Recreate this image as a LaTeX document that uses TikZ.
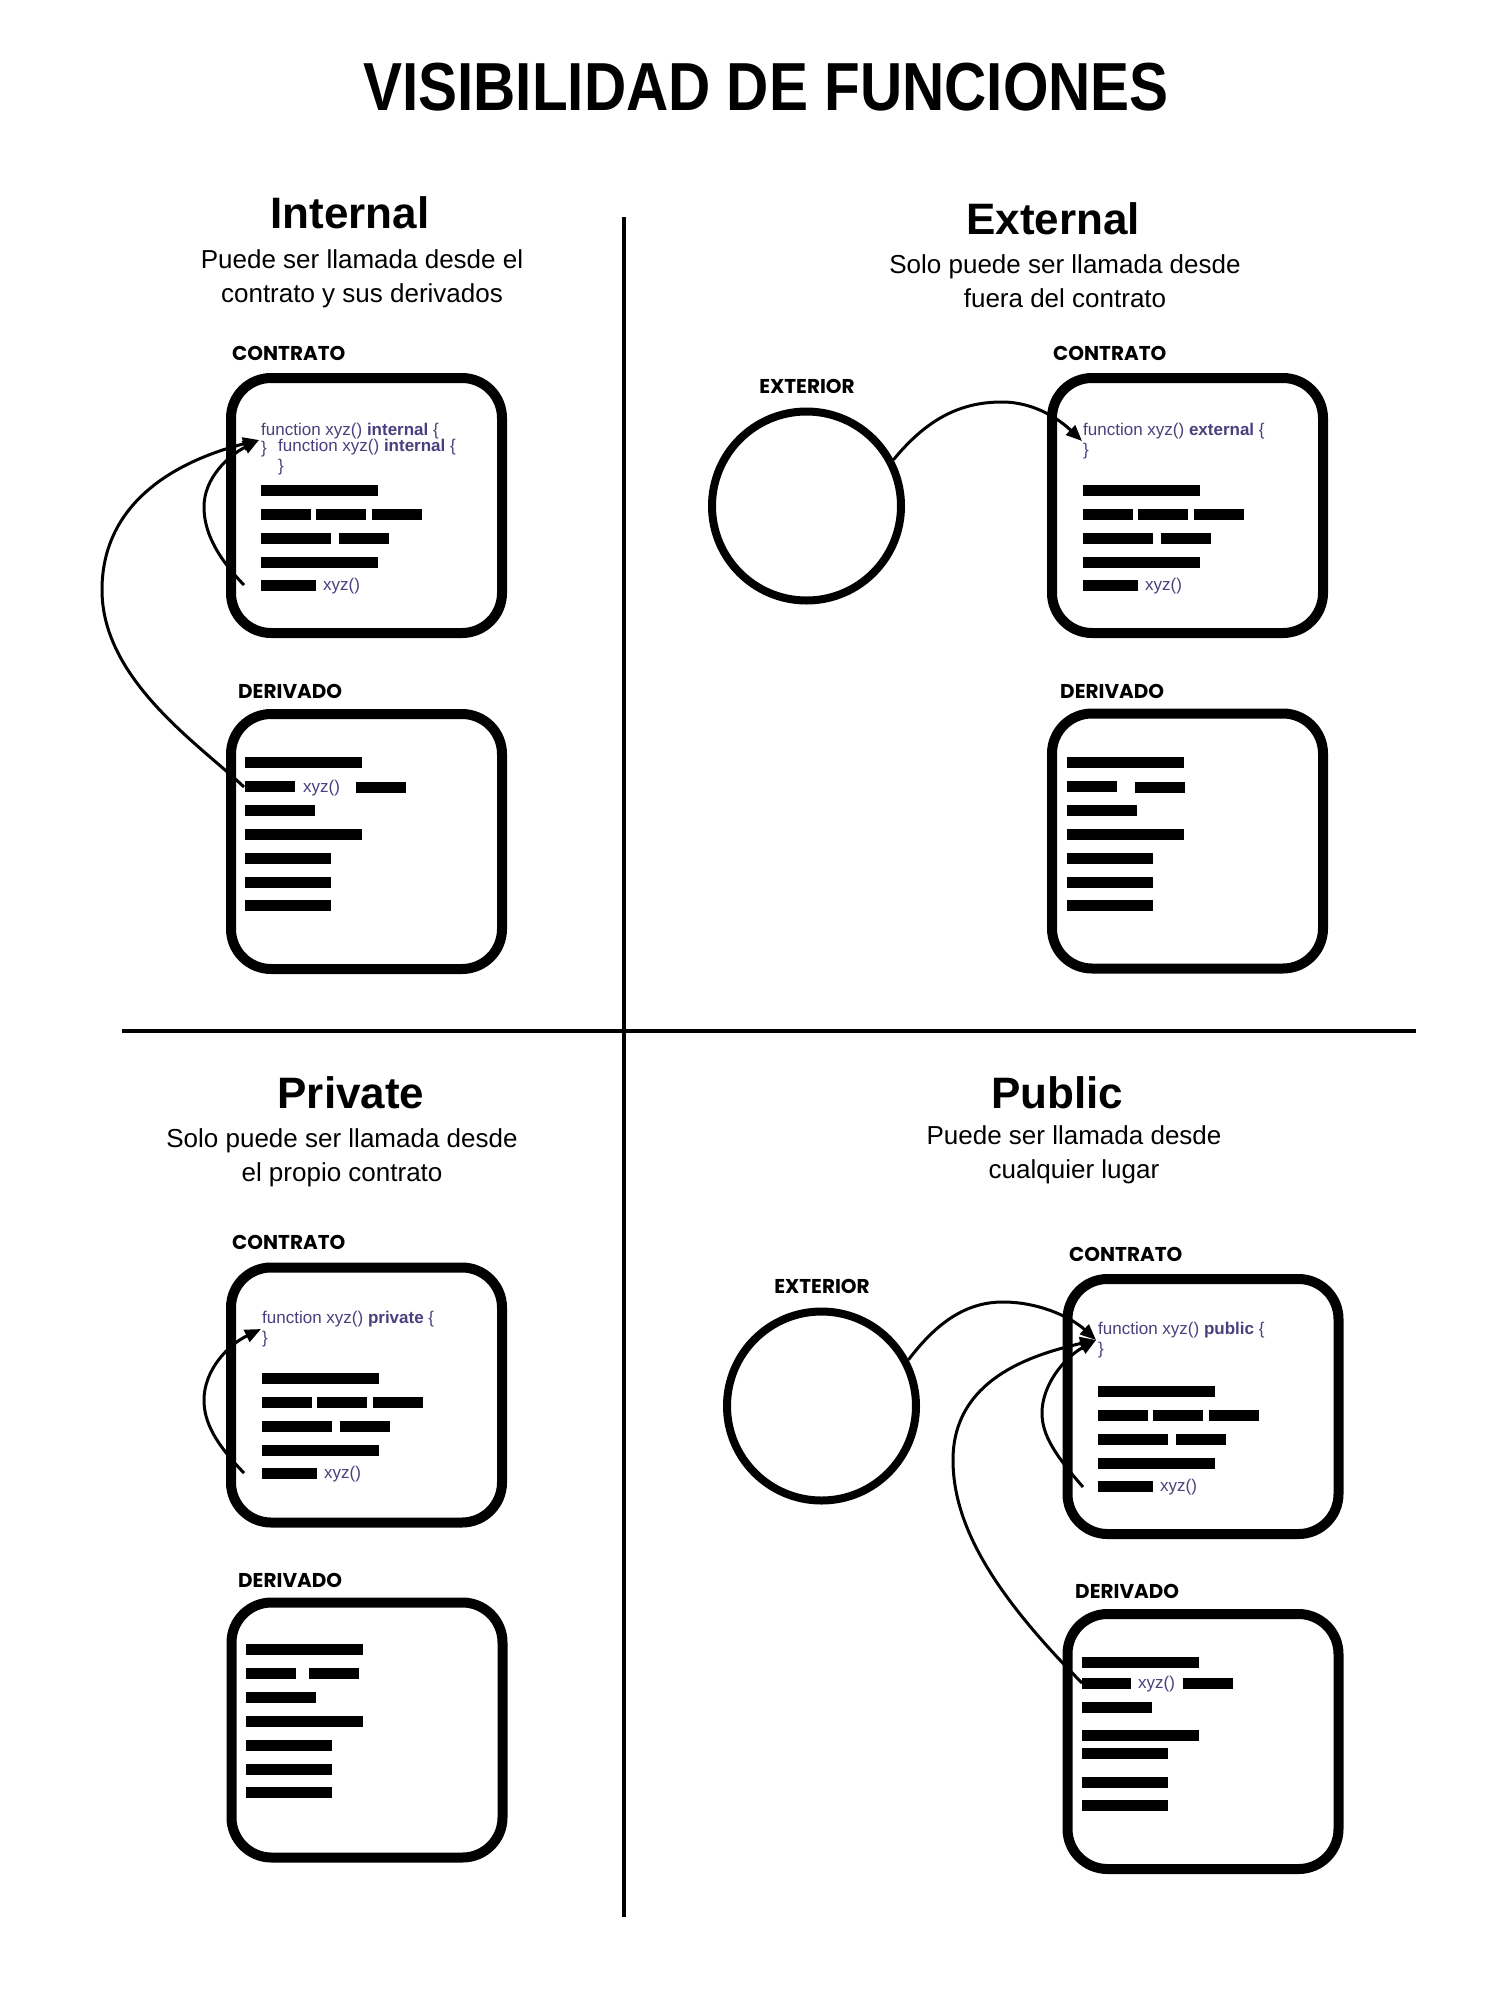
\documentclass[tikz,border=0pt]{standalone}
\usepackage{fontspec}
\usepackage{graphicx}
\setmainfont{Liberation Sans}
\newfontfamily\poppins{Poppins}
\usetikzlibrary{arrows.meta,positioning}
\definecolor{codigomorado}{HTML}{4B3F7E}

\begin{document}
\begin{tikzpicture}[x=1pt,y=-1pt,
    caja/.style={draw, line width=10pt, rounded corners=40pt, minimum width=271pt, minimum height=255pt, inner sep=0pt},
    exterior/.style={draw, circle, line width=8pt, minimum size=189pt, inner sep=0pt},
    seccion/.style={font=\fontsize{44}{48}\selectfont\bfseries, anchor=base},
    desc/.style={font=\fontsize{26}{34}\selectfont, align=center, anchor=base},
    etiqueta/.style={font=\poppins\fontsize{20}{21}\selectfont\bfseries, anchor=base west, inner sep=0pt},
    codigo/.style={font=\fontsize{17}{18}\selectfont, text=codigomorado, anchor=base west, inner sep=0pt},
    flecha/.style={line width=3pt, -{Triangle[length=16pt,width=13pt]}}
]
    % Fondo y margenes
    \fill[white] (0,0) rectangle (1500,2000);
    \useasboundingbox (0,0) rectangle (1500,2000);

    % Titulo
    \node[font=\fontsize{68}{70}\selectfont\bfseries, anchor=base] (titulo) at (766,110) {\scalebox{0.86}[1]{VISIBILIDAD DE FUNCIONES}};

    % Separadores
    \draw[line width=3.5pt] (624,217) -- (624,1917);
    \draw[line width=3.5pt] (122,1031) -- (1416,1031);

    % Internal
    \node[seccion] (intTit) at (350,228) {Internal};
    \node[desc] (intDesc) at (362,302) {Puede ser llamada desde el\\contrato y sus derivados};
    \node[etiqueta] (intCLab) at (232,360) {CONTRATO};
    \node[etiqueta] (intDLab) at (238,698) {DERIVADO};
    \node[caja] (intC) at (366.5,505.5) {};
    \node[caja] (intD) at (366.5,841.5) {};
    \node[codigo] (intCod1) at (261,435) {function xyz() \textbf{internal} \{};
    \node[codigo] (intCod2) at (261,453) {\}};
    \node[codigo] (intCod3) at (278,451) {function xyz() \textbf{internal} \{};
    \node[codigo] (intCod4) at (278,471) {\}};

    % External
    \node[seccion] (extTit) at (1053,234) {External};
    \node[desc] (extDesc) at (1065,307) {Solo puede ser llamada desde\\fuera del contrato};
    \node[etiqueta] (extCLab) at (1053,360) {CONTRATO};
    \node[etiqueta] (extDLab) at (1060,698) {DERIVADO};
    \node[etiqueta, anchor=base] (extELab) at (807,393) {EXTERIOR};
    \node[exterior] (extExt) at (806.5,506) {};
    \node[caja] (extC) at (1187.5,505.5) {};
    \node[caja] (extD) at (1187.5,841) {};
    \node[codigo] (extCod1) at (1083,435) {function xyz() \textbf{external} \{};
    \node[codigo] (extCod2) at (1083,455) {\}};

    % Private
    \node[seccion] (priTit) at (351,1108) {Private};
    \node[desc] (priDesc) at (342,1181) {Solo puede ser llamada desde\\el propio contrato};
    \node[etiqueta] (priCLab) at (232,1249) {CONTRATO};
    \node[etiqueta] (priDLab) at (238,1587) {DERIVADO};
    \node[caja] (priC) at (366.5,1395) {};
    \node[caja] (priD) at (367,1730) {};
    \node[codigo] (priCod1) at (262,1323) {function xyz() \textbf{private} \{};
    \node[codigo] (priCod2) at (262,1343) {\}};

    % Public
    \node[seccion] (pubTit) at (1057,1108) {Public};
    \node[desc] (pubDesc) at (1074,1178) {Puede ser llamada desde\\cualquier lugar};
    \node[etiqueta] (pubCLab) at (1069,1261) {CONTRATO};
    \node[etiqueta] (pubDLab) at (1075,1598) {DERIVADO};
    \node[etiqueta, anchor=base] (pubELab) at (822,1293) {EXTERIOR};
    \node[exterior] (pubExt) at (821.5,1406) {};
    \node[caja] (pubC) at (1203,1406.5) {};
    \node[caja] (pubD) at (1203,1741.5) {};
    \node[codigo] (pubCod1) at (1098,1334) {function xyz() \textbf{public} \{};
    \node[codigo] (pubCod2) at (1098,1354) {\}};

    % Barras de los contratos
    \foreach \bx/\by/\nombre in {261/485/int, 1083/485/ext, 262/1373/pri, 1098/1386/pub} {
        \fill (\bx,\by) rectangle ++(117,11);
        \foreach \dx in {0,55,111}
            \fill (\bx+\dx,\by+24) rectangle ++(50,11);
        \fill (\bx,\by+48) rectangle ++(70,11);
        \fill (\bx+78,\by+48) rectangle ++(50,11);
        \fill (\bx,\by+72) rectangle ++(117,11);
        \fill (\bx,\by+95) rectangle ++(55,11);
        \node[codigo] (\nombre Xyz) at (\bx+62,\by+105) {xyz()};
    }

    % Barras de los derivados
    \foreach \bx/\by in {245/757, 1067/757, 246/1644} {
        \foreach \dy/\w in {0/117, 24/50, 48/70, 72/117, 96/86, 120/86, 143/86}
            \fill (\bx,\by+\dy) rectangle ++(\w,11);
    }
    \fill (356,782) rectangle ++(50,11);
    \node[codigo] (intDXyz) at (303,792) {xyz()};
    \fill (1135,782) rectangle ++(50,11);
    \fill (309,1668) rectangle ++(50,11);
    \foreach \dy/\w in {0/117, 21/49, 45/70, 73/117, 91/86, 120/86, 143/86}
        \fill (1082,1657+\dy) rectangle ++(\w,11);
    \fill (1183,1678) rectangle ++(50,11);
    \node[codigo] (pubDXyz) at (1138,1688) {xyz()};

    % Llamadas
    \coordinate (intPunta) at (259,440);
    \coordinate (intInicioC) at (244,585);
    \coordinate (intInicioD) at (244,787);
    \draw[flecha] (intInicioD) .. controls (200,745) and (102,680) .. (102,590) .. controls (102,500) and (180,460) .. (intPunta);
    \draw[flecha] (intInicioC) .. controls (215,555) and (204,530) .. (204,507) .. controls (204,478) and (228,456) .. (intPunta);

    \coordinate (extPunta) at (1082,441);
    \draw[flecha] (extExt.28) .. controls (930,415) and (965,402) .. (1002,402) .. controls (1035,402) and (1060,420) .. (extPunta);

    \coordinate (priPunta) at (261,1329);
    \coordinate (priInicio) at (244,1473);
    \draw[flecha] (priInicio) .. controls (215,1443) and (204,1422) .. (204,1400) .. controls (204,1370) and (228,1345) .. (priPunta);

    \coordinate (pubPunta) at (1096,1340);
    \coordinate (pubInicioC) at (1083,1487);
    \coordinate (pubInicioD) at (1082,1683);
    \draw[flecha] (pubExt.28) .. controls (940,1318) and (970,1302) .. (1003,1302) .. controls (1040,1302) and (1072,1318) .. (pubPunta);
    \draw[flecha] (pubInicioC) .. controls (1055,1455) and (1042,1435) .. (1042,1413) .. controls (1042,1385) and (1064,1358) .. (pubPunta);
    \draw[flecha] (pubInicioD) .. controls (1000,1600) and (953,1530) .. (953,1460) .. controls (953,1380) and (1030,1355) .. (pubPunta);
\end{tikzpicture}
\end{document}
